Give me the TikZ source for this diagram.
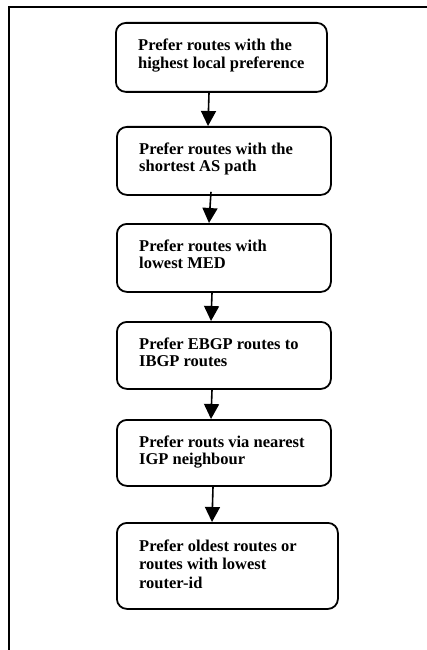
\documentclass[tikz,border=0pt]{standalone}
\usepackage{fontspec}
\setmainfont{Liberation Serif}
\usetikzlibrary{arrows.meta,calc}
\tikzset{
  stepbox/.style={draw=black, line width=1.8pt, rounded corners=10pt, inner sep=0pt, anchor=north west},
  steptext/.style={anchor=north west, inner sep=0pt, align=left, font=\fontsize{16.5}{17.5}\selectfont\bfseries},
  arr/.style={line width=1.6pt, -{Triangle[length=15pt,width=15pt]}},
  frame/.style={line width=1.8pt}
}
\begin{document}
\begin{tikzpicture}[x=1pt,y=-1pt]
\useasboundingbox (0,0) rectangle (427,650);
\draw[frame] (9,652) -- (9,7) -- (430,7);

\node[stepbox, minimum width=211pt, minimum height=69pt] (b1) at (115,22) {};
\node[stepbox, minimum width=214pt, minimum height=68pt] (b2) at (116,126) {};
\node[stepbox, minimum width=214pt, minimum height=68pt] (b3) at (116,223) {};
\node[stepbox, minimum width=214pt, minimum height=67pt] (b4) at (116,321) {};
\node[stepbox, minimum width=214pt, minimum height=66pt] (b5) at (116,419) {};
\node[stepbox, minimum width=221pt, minimum height=86pt] (b6) at (116,522) {};

\node[steptext] (t1) at ($(b1.north west)+(23,16.7)$) {Prefer routes with the\\highest local preference};
\node[steptext] (t2) at ($(b2.north west)+(23,16.2)$) {Prefer routes with the\\shortest AS path};
\node[steptext] (t3) at ($(b3.north west)+(23,16.2)$) {Prefer routes with\\lowest MED};
\node[steptext] (t4) at ($(b4.north west)+(23,16.2)$) {Prefer EBGP routes to\\IBGP routes};
\node[steptext] (t5) at ($(b5.north west)+(23,16.2)$) {Prefer routs via nearest\\IGP neighbour};
\node[steptext, font=\fontsize{16.5}{18.5}\selectfont\bfseries] (t6) at ($(b6.north west)+(23,17.4)$) {Prefer oldest routes or\\routes with lowest\\router-id};

\draw[arr] ($(b1.south west)+(94,0)$) -- ($(b2.north west)+(92,0)$);
\draw[arr] ($(b2.south west)+(95,-4)$) -- ($(b3.north west)+(93,0)$);
\draw[arr] ($(b3.south west)+(96,0)$) -- ($(b4.north west)+(95,0)$);
\draw[arr] ($(b4.south west)+(96,0)$) -- ($(b5.north west)+(95,0)$);
\draw[arr] ($(b5.south west)+(97,0)$) -- ($(b6.north west)+(96,0)$);
\end{tikzpicture}
\end{document}
